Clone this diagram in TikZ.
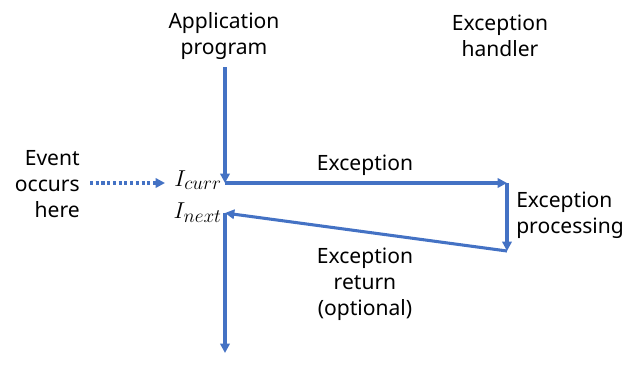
\documentclass[tikz,border=0pt]{standalone}
\usepackage{fontspec}
\setmainfont{Noto Sans}
\usetikzlibrary{arrows.meta}
\definecolor{lineblue}{HTML}{4472C4}
\tikzset{
  lbl/.style={font=\fontsize{15.8}{19.6}\selectfont, align=center, inner sep=0pt},
  mlbl/.style={font=\fontsize{19}{19}\selectfont, inner sep=0pt, anchor=east},
  flow/.style={draw=lineblue, line width=2.3pt, -{Triangle[length=7pt,width=7pt]}},
  dotflow/.style={draw=lineblue, line width=2.3pt, dotted, -{Triangle[length=7pt,width=7pt]}},
}
\begin{document}
\begin{tikzpicture}[x=0.75pt,y=-0.75pt]
\useasboundingbox (0,0) rectangle (644,371);
\node[lbl] (app) at (224,36) {Application\\program};
\node[lbl] (hdl) at (500,36) {Exception\\handler};
\node[lbl, align=right, anchor=east] (event) at (80,184) {Event\\occurs\\here};
\node[mlbl] (icurr) at (222,180) {$I_{curr}$};
\node[mlbl] (inext) at (222,213) {$I_{next}$};
\node[lbl] (exc) at (365,165) {Exception};
\node[lbl, align=left, anchor=west] (proc) at (516,215) {Exception\\processing};
\node[lbl] (ret) at (365,284) {Exception\\return\\(optional)};
\coordinate (a0) at (225,67);
\coordinate (a1) at (225,183);
\coordinate (b1) at (507,183);
\coordinate (b2) at (507,251);
\coordinate (a2) at (225,213);
\coordinate (a3) at (225,353);
\coordinate (d0) at (90,183);
\coordinate (d1) at (165,183);
\draw[flow] (a0) -- (a1);
\draw[flow] (a1) -- (b1);
\draw[flow] (b1) -- (b2);
\draw[flow] (b2) -- (a2);
\draw[flow] (a2) -- (a3);
\draw[dotflow] (d0) -- (d1);
\end{tikzpicture}
\end{document}
